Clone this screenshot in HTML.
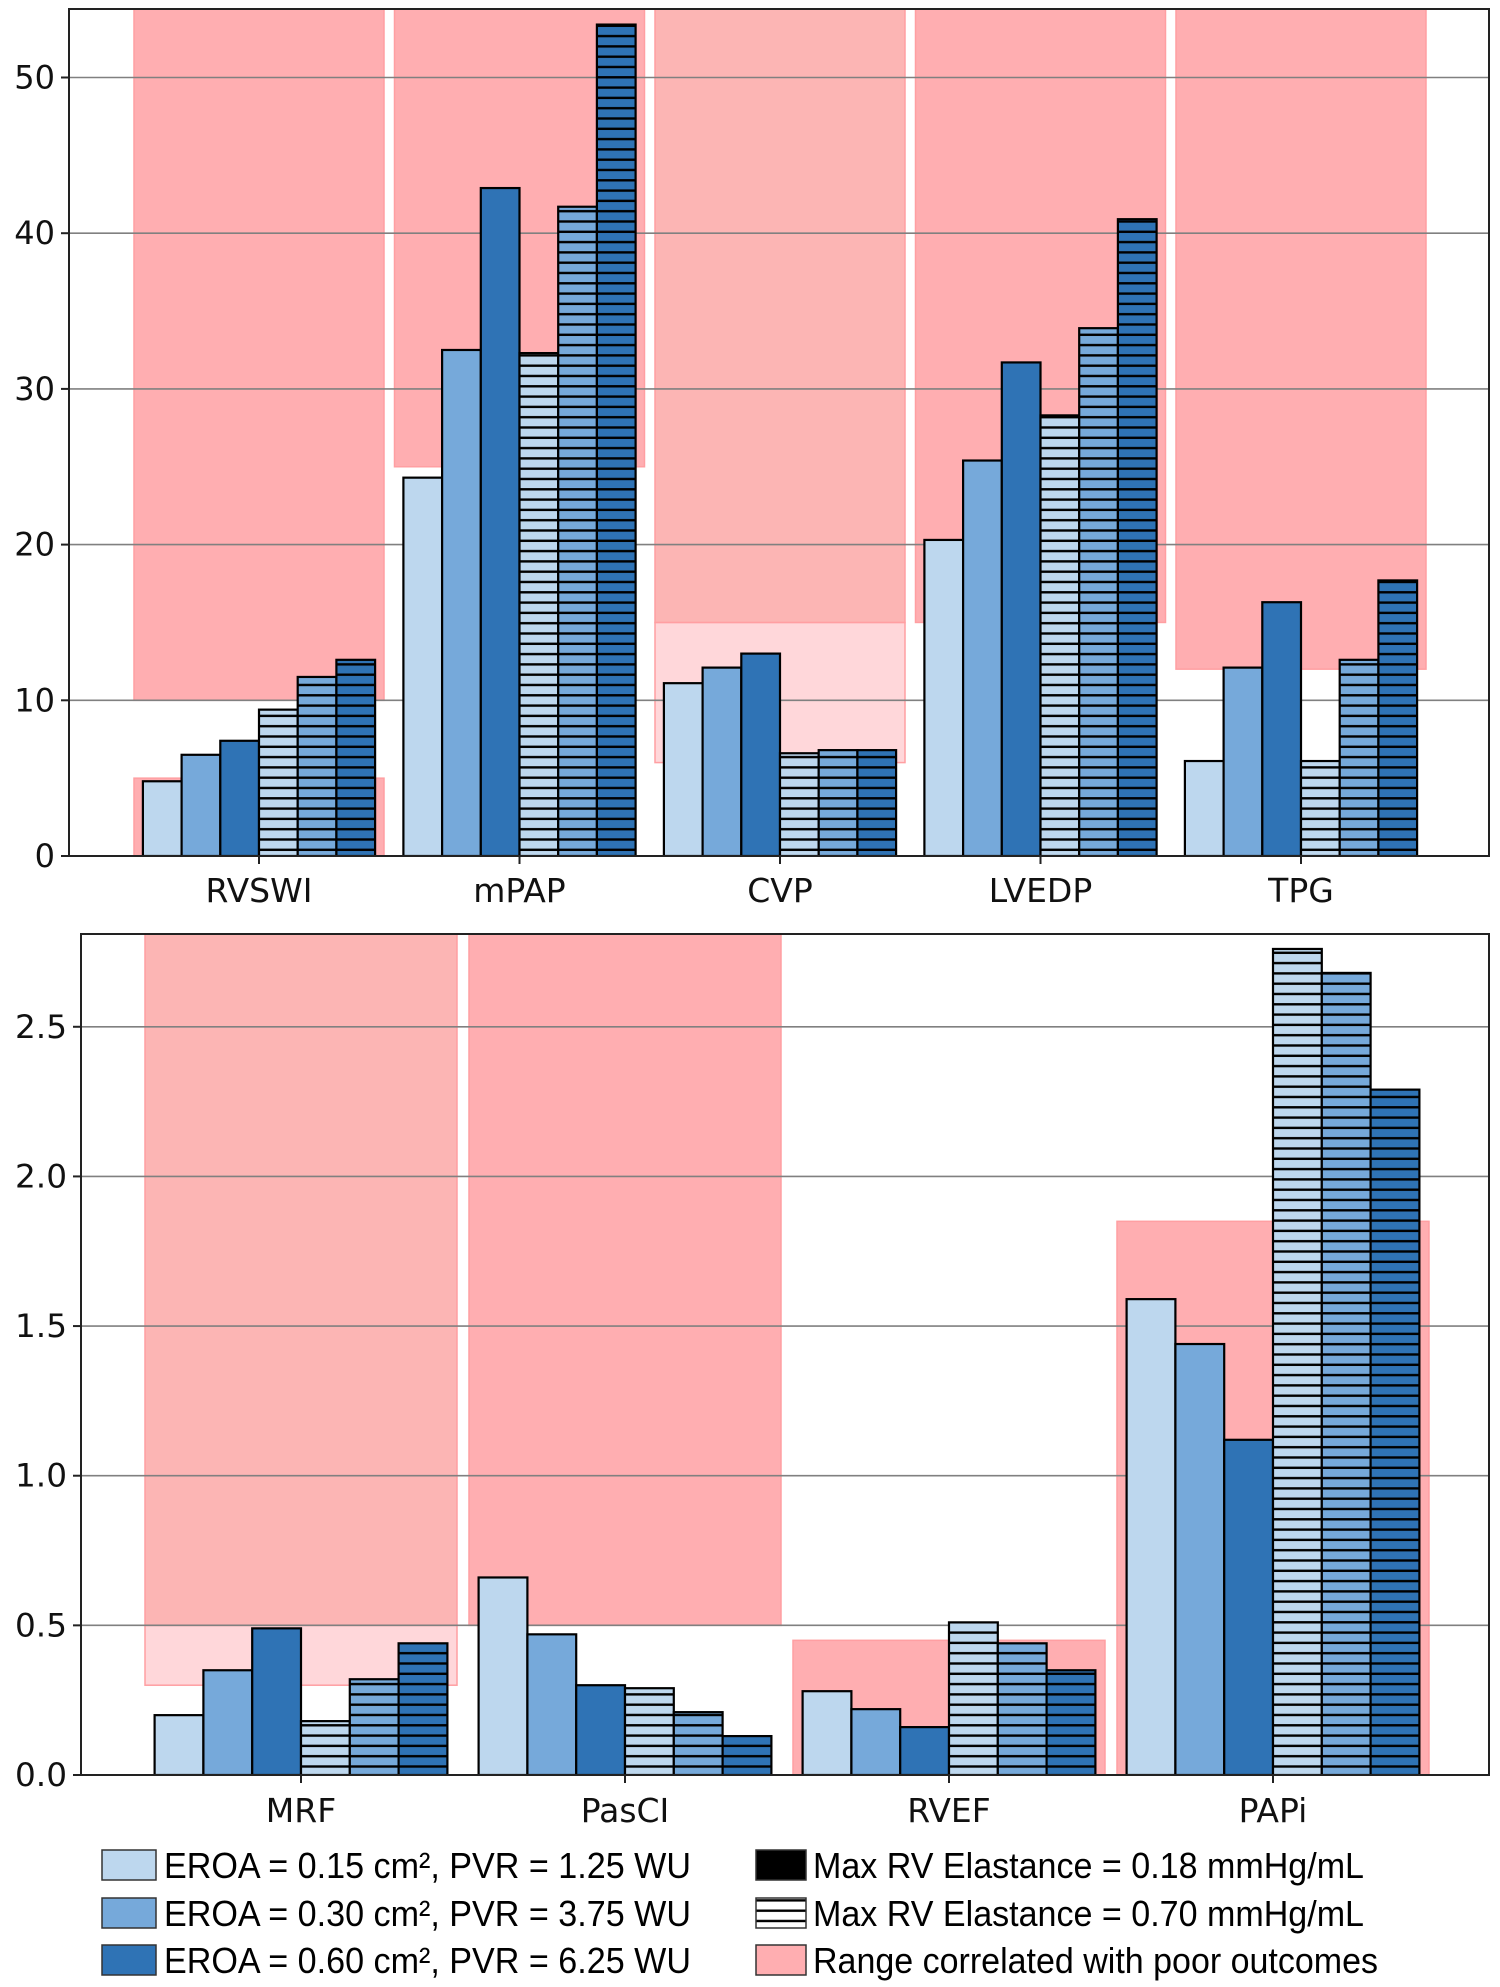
<!DOCTYPE html>
<html><head><meta charset="utf-8"><style>
html,body{margin:0;padding:0;background:#fff;}
svg{display:block;font-family:"DejaVu Sans","Liberation Sans",sans-serif;}
</style></head><body>
<svg id="fig" width="1500" height="1987" viewBox="0 0 1500 1987" xmlns="http://www.w3.org/2000/svg">
<defs>
<pattern id="hatch" patternUnits="userSpaceOnUse" width="20" height="10.3"><rect x="0" y="4" width="20" height="2.4" fill="#000"/></pattern>
</defs>
<g id="top"></g>
<g id="bot"></g>
<g id="legend"></g>
</svg>
<script>
const topCats = ["RVSWI","mPAP","CVP","LVEDP","TPG"];
const topVals = [
 [4.8,6.5,7.4,9.4,11.5,12.6],
 [24.3,32.5,42.9,32.3,41.7,53.4],
 [11.1,12.1,13.0,6.6,6.8,6.8],
 [20.3,25.4,31.7,28.3,33.9,40.9],
 [6.1,12.1,16.3,6.1,12.6,17.7]
];
const topTicks = [0,10,20,30,40,50];
// spans: [category index, low, high, shade]
const topSpans = [[0,10,60,0],[0,0,5,0],[1,25,60,0],[2,6,15,1],[2,15,60,2],[3,15,60,0],[4,12,60,0]];
const botCats = ["MRF","PasCI","RVEF","PAPi"];
const botVals = [
 [0.20,0.35,0.49,0.18,0.32,0.44],
 [0.66,0.47,0.30,0.29,0.21,0.13],
 [0.28,0.22,0.16,0.51,0.44,0.35],
 [1.59,1.44,1.12,2.76,2.68,2.29]
];
const botTicks = [0.0,0.5,1.0,1.5,2.0,2.5];
const botTickLabels = ["0.0","0.5","1.0","1.5","2.0","2.5"];
const botSpans = [[0,0.3,0.5,1],[0,0.5,3,2],[1,0.5,3,0],[2,0,0.45,0],[3,0,1.85,0]];

const NS="http://www.w3.org/2000/svg";
const colors=["#bdd7ee","#76a9da","#2f73b5"];
const spanFill=["#ffaeb1","#ffd7da","#fcb5b4"];
function mk(parent,tag,attrs){const e=document.createElementNS(NS,tag);for(const k in attrs)e.setAttribute(k,attrs[k]);parent.appendChild(e);return e;}

function drawChart(g,cfg){
  const {L,R,T,B,ymax,cats,vals,ticks,tickLabels,spans,c0,dc,bw,spanHalf,labelY,cond}=cfg;
  const y=v=>B-(v/ymax)*(B-T);
  const x=i=>c0+dc*i;
  const clip=mk(g,"clipPath",{id:g.id+"clip"});
  mk(clip,"rect",{x:L,y:T,width:R-L,height:B-T});
  const inner=mk(g,"g",{"clip-path":"url(#"+g.id+"clip)"});
  spans.forEach(s=>{
    const r=mk(inner,"rect",{x:x(s[0])-spanHalf,y:y(s[2]),width:2*spanHalf,height:y(s[1])-y(s[2]),fill:spanFill[s[3]],stroke:"#ff9fa2","stroke-width":1.5});
    
    
  });
  ticks.forEach(t=>{
    const l=mk(inner,"line",{x1:L,x2:R,y1:y(t),y2:y(t),stroke:"#808080","stroke-width":1.6});
    
    
  });
  vals.forEach((row,i)=>{
    row.forEach((v,k)=>{
      const bx=x(i)+(k-3)*bw;
      const col=colors[k%3];
      const r=mk(inner,"rect",{x:bx,y:y(v),width:bw,height:B-y(v),fill:col,stroke:"#000","stroke-width":2.2});
      
      
      if(k>=3){
        const h=mk(inner,"rect",{x:bx,y:y(v),width:bw,height:B-y(v),fill:"url(#hatch)"});
        
        
      }
    });
  });
  const fr=mk(g,"rect",{x:L,y:T,width:R-L,height:B-T,fill:"none",stroke:"#222","stroke-width":2});
  
  
  ticks.forEach((t,j)=>{
    mk(g,"line",{x1:L-8,x2:L,y1:y(t),y2:y(t),stroke:"#222","stroke-width":2});
    const tx=mk(g,"text",{x:L-14,y:y(t)+11,"text-anchor":"end","font-size":32,fill:"#111"});
    tx.textContent=tickLabels?tickLabels[j]:String(t);
    if(cond){tx.setAttribute("textLength",52);tx.setAttribute("lengthAdjust","spacingAndGlyphs");}
    
    
  });
  cats.forEach((c,i)=>{
    mk(g,"line",{x1:x(i),x2:x(i),y1:B,y2:B+8,stroke:"#222","stroke-width":2});
    const tx=mk(g,"text",{x:x(i),y:labelY,"text-anchor":"middle","font-size":33,fill:"#111"});
    tx.textContent=c;
    
    
  });
}
drawChart(document.getElementById("top"),{L:69,R:1489,T:9,B:856,ymax:54.4,cats:topCats,vals:topVals,ticks:topTicks,
  spans:topSpans,c0:259,dc:260.5,bw:38.7,spanHalf:125,labelY:902,cond:false});
drawChart(document.getElementById("bot"),{L:81,R:1489,T:934,B:1775,ymax:2.81,cats:botCats,vals:botVals,ticks:botTicks,tickLabels:botTickLabels,
  spans:botSpans,c0:301,dc:324,bw:48.8,spanHalf:156,labelY:1822,cond:true});

// legend
const lg=document.getElementById("legend");
const legLeft=[["EROA = 0.15 cm","², PVR = 1.25 WU",colors[0]],["EROA = 0.30 cm","², PVR = 3.75 WU",colors[1]],["EROA = 0.60 cm","², PVR = 6.25 WU",colors[2]]];
const rowsY=[1865,1913,1960];
legLeft.forEach((e,i)=>{
  const r=mk(lg,"rect",{x:102,y:rowsY[i]-15,width:54,height:30,fill:e[2],stroke:"#333","stroke-width":1.5});
  
  
  const t=mk(lg,"text",{x:164,y:rowsY[i]+13,"font-size":36,fill:"#000",textLength:527,lengthAdjust:"spacingAndGlyphs","font-family":"Liberation Sans, sans-serif"});
  t.textContent=e[0]+e[1];
  
  
});
const legRight=[["Max RV Elastance = 0.18 mmHg/mL","#000",551],["Max RV Elastance = 0.70 mmHg/mL","url(#hatch)",551],["Range correlated with poor outcomes",spanFill[0],565]];
legRight.forEach((e,i)=>{
  if(i===1) mk(lg,"rect",{x:756,y:rowsY[i]-15,width:50,height:30,fill:"#fff"});
  const r=mk(lg,"rect",{x:756,y:rowsY[i]-15,width:50,height:30,fill:e[1],stroke:"#333","stroke-width":1.5});
  
  
  const t=mk(lg,"text",{x:813,y:rowsY[i]+13,"font-size":36,fill:"#000",textLength:e[2],lengthAdjust:"spacingAndGlyphs","font-family":"Liberation Sans, sans-serif"});
  t.textContent=e[0];
  
  
});
</script>
</body></html>
